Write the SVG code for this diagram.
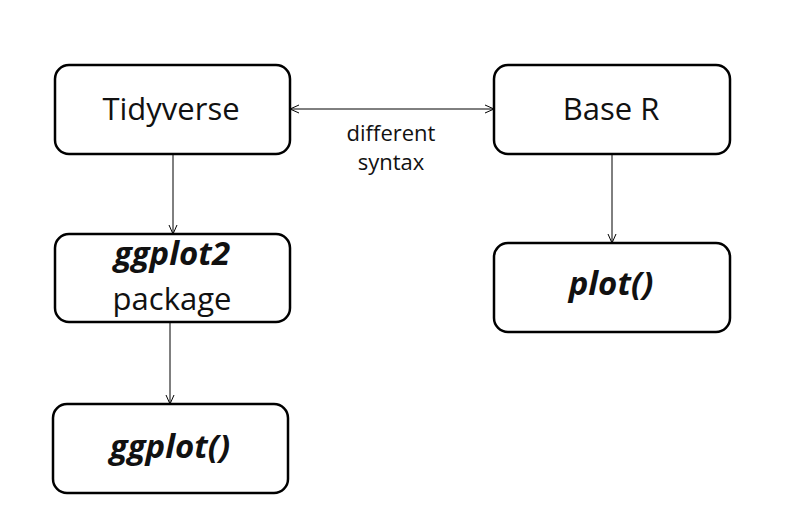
<svg xmlns="http://www.w3.org/2000/svg" width="790" height="518" viewBox="0 0 790 518">
<defs>
<style>
.box{fill:#fff;stroke:#000;stroke-width:2.5}
.t{font-family:"Open Sans","Noto Sans",sans-serif;font-size:31px;fill:#111;text-anchor:middle}
.bi{font-weight:bold;font-style:italic;font-size:33px}
.lbl{font-family:"Open Sans","Noto Sans",sans-serif;font-size:22px;fill:#111;text-anchor:middle}
.c{stroke:#000;stroke-width:1;fill:none}
</style>
<marker id="ah" viewBox="0 0 10 10" refX="10" refY="5" markerWidth="10" markerHeight="10" markerUnits="userSpaceOnUse" orient="auto-start-reverse">
<path d="M1,1 L10,5 L1,9" fill="none" stroke="#000" stroke-width="1"/>
</marker>
</defs>
<rect width="790" height="518" fill="#fff"/>
<g id="connectors">
<line class="c" x1="290" y1="109" x2="494" y2="109" marker-start="url(#ah)" marker-end="url(#ah)"/>
<line class="c" x1="173" y1="154" x2="173" y2="234" marker-end="url(#ah)"/>
<line class="c" x1="170" y1="322" x2="170" y2="404" marker-end="url(#ah)"/>
<line class="c" x1="612" y1="154" x2="612" y2="243" marker-end="url(#ah)"/>
<text class="lbl" x="391" y="141">different</text>
<text class="lbl" x="391" y="170">syntax</text>
</g>
<g id="tidyverse">
<rect class="box" x="55" y="65" width="235" height="89" rx="14"/>
<text class="t" x="171" y="120">Tidyverse</text>
</g>
<g id="baser">
<rect class="box" x="494" y="65" width="236" height="89" rx="14"/>
<text class="t" x="611" y="120">Base R</text>
</g>
<g id="ggplot2">
<rect class="box" x="55" y="234" width="235" height="88" rx="14"/>
<text class="t bi" x="172" y="265">ggplot2</text>
<text class="t" x="172" y="310">package</text>
</g>
<g id="ggplotfn">
<rect class="box" x="53" y="404" width="235" height="89" rx="14"/>
<text class="t bi" x="170" y="458">ggplot()</text>
</g>
<g id="plotfn">
<rect class="box" x="494" y="243" width="236" height="89" rx="14"/>
<text class="t bi" x="611" y="295">plot()</text>
</g>
</svg>
